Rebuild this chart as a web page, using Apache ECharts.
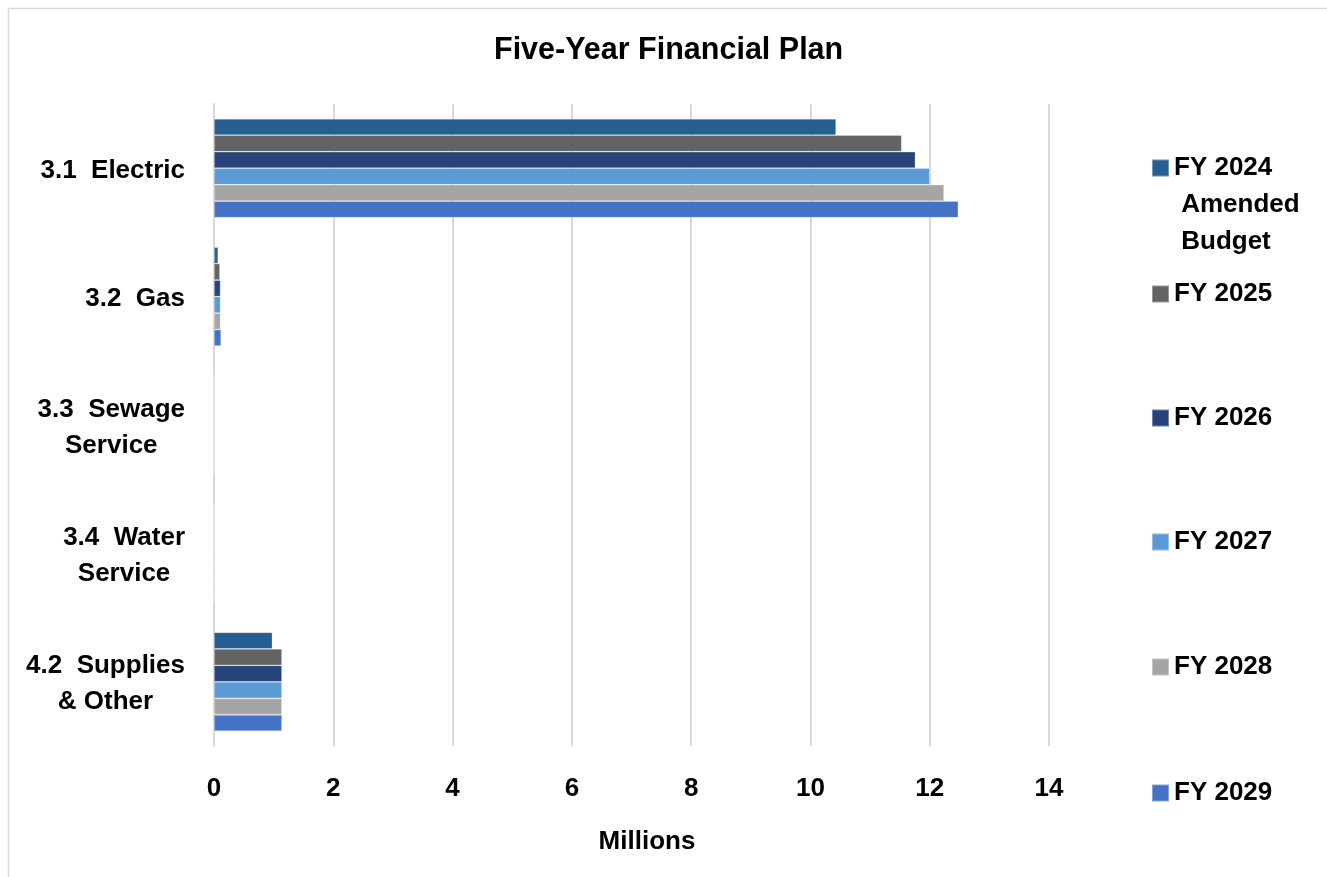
<!DOCTYPE html>
<html>
<head>
<meta charset="utf-8">
<title>Five-Year Financial Plan</title>
<script src="https://cdn.jsdelivr.net/npm/echarts@6/dist/echarts.min.js"></script>
<style>
  html, body { margin: 0; padding: 0; background: #ffffff; }
  #chart { width: 1327px; height: 877px; }
</style>
</head>
<body>
<div id="chart"></div>
<script>
// Budget lines, top to bottom
const categories = ['3.1  Electric', '3.2  Gas', '3.3  Sewage\nService', '3.4  Water\nService', '4.2  Supplies\n& Other'];

// Amounts per fiscal year, in millions
const fy2024 = [10.43, 0.07, 0, 0, 0.98];
const fy2025 = [11.53, 0.10, 0, 0, 1.14];
const fy2026 = [11.76, 0.11, 0, 0, 1.14];
const fy2027 = [12.00, 0.11, 0, 0, 1.14];
const fy2028 = [12.24, 0.11, 0, 0, 1.14];
const fy2029 = [12.48, 0.12, 0, 0, 1.14];

const seriesNames = ['FY 2024 Amended Budget', 'FY 2025', 'FY 2026', 'FY 2027', 'FY 2028', 'FY 2029'];
const seriesValues = [fy2024, fy2025, fy2026, fy2027, fy2028, fy2029];
const seriesColors = ['#255E91', '#636363', '#264478', '#5B9BD5', '#A5A5A5', '#4472C4'];

// Value axis range
const xMin = 0;
const xMax = 14;
const xStep = 2;

const FONT = '"Liberation Sans", Arial, sans-serif';
const LABEL_SIZE = 26;

// Legend entries sit in a column on the right, one block per series
const legendCenters = [168, 294, 418, 542, 667, 793];
const legendLabels = {
  'FY 2024 Amended Budget': '\n\nFY 2024\n Amended\n Budget'
};

const chart = echarts.init(document.getElementById('chart'), null, { renderer: 'canvas' });

const legends = seriesNames.map((name, i) => {
  const lines = (legendLabels[name] || name).split('\n').length;
  const lineH = 37;
  const boxH = Math.max(lines * lineH, 17);
  return {
    data: [name],
    orient: 'vertical',
    left: 1151,
    top: legendCenters[i] - boxH / 2,
    padding: 0,
    icon: 'rect',
    itemWidth: 17,
    itemHeight: 17,
    itemGap: 0,
    selectedMode: false,
    formatter: (n) => legendLabels[n] || n,
    textStyle: {
      fontFamily: FONT,
      fontWeight: 'bold',
      fontSize: LABEL_SIZE,
      lineHeight: lineH,
      color: '#000000'
    }
  };
});

const option = {
  backgroundColor: '#ffffff',
  animation: false,
  title: {
    text: 'Five-Year Financial Plan',
    left: 494,
    top: 35,
    padding: 0,
    textStyle: {
      fontFamily: FONT,
      fontWeight: 'bold',
      fontSize: 30.5,
      color: '#000000'
    }
  },
  graphic: [{
    type: 'rect',
    silent: true,
    z: -10,
    shape: { x: 8.5, y: 8.5, width: 1400, height: 1000 },
    style: { fill: 'none', stroke: '#d9d9d9', lineWidth: 1.5 }
  }],
  legend: legends,
  grid: {
    left: 214,
    right: 278,
    top: 104,
    bottom: 131,
    containLabel: false,
    outerBoundsMode: 'none'
  },
  xAxis: {
    type: 'value',
    min: xMin,
    max: xMax,
    interval: xStep,
    name: 'Millions',
    nameLocation: 'middle',
    nameGap: 83,
    nameTextStyle: {
      fontFamily: FONT,
      fontWeight: 'bold',
      fontSize: LABEL_SIZE,
      color: '#000000',
      padding: [0, 0, 0, 31]
    },
    axisLine: { show: false },
    axisTick: { show: false },
    axisLabel: {
      margin: 30,
      fontFamily: FONT,
      fontWeight: 'bold',
      fontSize: LABEL_SIZE,
      color: '#000000'
    },
    splitLine: { show: true, lineStyle: { color: '#d9d9d9', width: 2 } }
  },
  yAxis: {
    type: 'category',
    data: categories,
    inverse: true,
    axisLine: { show: true, lineStyle: { color: '#d9d9d9', width: 2 } },
    axisTick: { show: false },
    splitLine: { show: false },
    axisLabel: {
      margin: 29,
      padding: [5, 0, 0, 0],
      formatter: (v) => v.split('\n').map(s => '{c|' + s + '}').join('\n'),
      rich: {
        c: {
          align: 'center',
          fontFamily: FONT,
          fontWeight: 'bold',
          fontSize: LABEL_SIZE,
          lineHeight: 36,
          color: '#000000'
        }
      }
    }
  },
  series: seriesNames.map((name, i) => ({
    name: name,
    type: 'bar',
    data: seriesValues[i],
    barGap: '0%',
    barCategoryGap: '23%',
    itemStyle: {
      color: seriesColors[i],
      borderColor: 'rgba(255,255,255,0.35)',
      borderWidth: 0.75
    }
  }))
};

chart.setOption(option);
</script>
</body>
</html>
